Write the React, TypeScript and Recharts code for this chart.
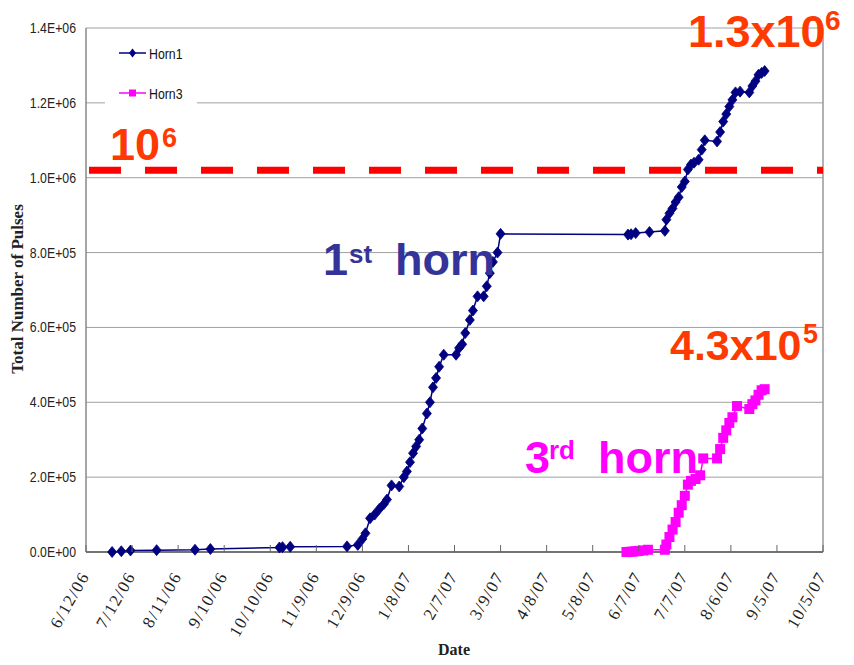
import React from 'react';
import { LineChart, Line, XAxis, YAxis, CartesianGrid, ReferenceLine, Legend } from 'recharts';

// ---- data (days since 6/12/06, total pulses) ----
const horn1Days = [17, 23, 29, 46, 71, 81, 126, 128, 133, 170, 177, 180, 182, 185, 188, 191, 194, 196, 199, 204, 207, 209, 211, 213, 215, 217, 219, 222, 224, 226, 228, 230, 233, 241, 243, 245, 247, 250, 252, 255, 259, 261, 263, 265, 268, 270, 353, 355, 358, 367, 377, 378, 380, 382, 384, 386, 388, 390, 392, 394, 396, 399, 401, 403, 411, 413, 415, 417, 419, 421, 423, 426, 432, 434, 436, 438, 440, 442];
const horn1Pulses = [0, 2000, 4000, 5000, 6000, 8000, 12000, 13000, 14000, 15000, 19000, 35000, 50000, 90000, 100000, 115000, 128000, 140000, 178000, 175000, 200000, 215000, 240000, 264000, 282000, 300000, 330000, 370000, 400000, 440000, 465000, 495000, 527000, 527000, 545000, 555000, 585000, 620000, 645000, 683000, 683000, 710000, 745000, 775000, 800000, 850000, 848000, 849000, 852000, 855000, 858000, 888000, 905000, 918000, 935000, 948000, 975000, 990000, 1022000, 1035000, 1040000, 1048000, 1075000, 1100000, 1097000, 1122000, 1150000, 1170000, 1190000, 1208000, 1228000, 1230000, 1228000, 1245000, 1258000, 1275000, 1280000, 1285000];

const horn3Days = [352, 354, 356, 358, 360, 363, 366, 377, 378, 380, 382, 384, 386, 388, 390, 392, 394, 397, 400, 402, 411, 413, 415, 417, 419, 421, 424, 432, 434, 436, 438, 440, 442];
const horn3Pulses = [0, 500, 1000, 2000, 3000, 4000, 6000, 6000, 20000, 40000, 60000, 80000, 105000, 125000, 150000, 180000, 190000, 195000, 205000, 250000, 250000, 275000, 305000, 325000, 345000, 360000, 390000, 382000, 395000, 405000, 420000, 432000, 435000];

const xTickDays = [0, 30, 60, 90, 120, 150, 180, 210, 240, 270, 300, 330, 360, 390, 420, 450, 480];
const xTickLabels = ['6/12/06', '7/12/06', '8/11/06', '9/10/06', '10/10/06', '11/9/06', '12/9/06', '1/8/07', '2/7/07', '3/9/07', '4/8/07', '5/8/07', '6/7/07', '7/7/07', '8/6/07', '9/5/07', '10/5/07'];
const yTicks = [0, 200000, 400000, 600000, 800000, 1000000, 1200000, 1400000];
const yTickLabels = ['0.0E+00', '2.0E+05', '4.0E+05', '6.0E+05', '8.0E+05', '1.0E+06', '1.2E+06', '1.4E+06'];
const seriesNames = ['Horn1', 'Horn3'];
const milestone = 1020000;

const horn1Data = horn1Days.map((d, i) => ({ d, v: horn1Pulses[i] }));
const horn3Data = horn3Days.map((d, i) => ({ d, v: horn3Pulses[i] }));

const NAVY = '#000080';
const MAGENTA = '#ff00ff';
const ORANGE = '#ff3a00';
const SANS = '"Liberation Sans", Arial, sans-serif';
const SERIF = '"Liberation Serif", "Times New Roman", serif';

const Diamond = (p: any) => {
  const { cx, cy, index } = p;
  if (cx == null || cy == null) return <g key={`h1-${index}`} />;
  return (
    <path
      key={`h1-${index}`}
      d={`M${cx},${cy - 5.5}L${cx + 4.5},${cy}L${cx},${cy + 5.5}L${cx - 4.5},${cy}Z`}
      fill={NAVY}
      stroke={NAVY}
      strokeWidth={0.8}
    />
  );
};

const Square = (p: any) => {
  const { cx, cy, index } = p;
  if (cx == null || cy == null) return <g key={`h3-${index}`} />;
  return <rect key={`h3-${index}`} x={cx - 5} y={cy - 5} width={10} height={10} fill={MAGENTA} />;
};

const XTick = (p: any) => {
  const { x, y, payload } = p;
  const idx = xTickDays.indexOf(payload.value);
  const label = idx >= 0 ? xTickLabels[idx] : '';
  return (
    <g>
      <line x1={x} x2={x} y1={y} y2={y - 7} stroke="#666" strokeWidth={1} />
      <text
        transform={`translate(${x + 4},${y + 24}) rotate(-60)`}
        textAnchor="end"
        fontFamily={SERIF}
        fontSize={17}
        letterSpacing={1.4}
        fill="#222"
      >
        {label}
      </text>
    </g>
  );
};

const YTick = (p: any) => {
  const { x, y, payload } = p;
  const idx = yTicks.indexOf(payload.value);
  const label = idx >= 0 ? yTickLabels[idx] : '';
  return (
    <g transform={`translate(${x},${y}) scale(0.82,1)`}>
      <text x={0} y={0} dy={5} textAnchor="end" fontFamily={SANS} fontSize={15} fill="#222">
        {label}
      </text>
    </g>
  );
};

const LegendContent = () => (
  <div style={{ background: '#fff', width: 92, height: 76, position: 'relative' }}>
    {seriesNames.map((name, i) => (
      <div key={name} style={{ position: 'absolute', left: 14, top: 9 + i * 40, height: 16, display: 'flex', alignItems: 'center' }}>
        <svg width={28} height={16}>
          <line x1={0} x2={27} y1={8} y2={8} stroke={i === 0 ? NAVY : MAGENTA} strokeWidth={1.5} />
          {i === 0 ? (
            <path d="M13.5,3.5L17,8L13.5,12.5L10,8Z" fill={NAVY} />
          ) : (
            <rect x={10} y={4.5} width={7} height={7} fill={MAGENTA} />
          )}
        </svg>
        <span
          style={{
            fontFamily: SANS,
            fontSize: 15,
            color: '#111',
            marginLeft: 2,
            display: 'inline-block',
            transform: 'scaleX(0.82)',
            transformOrigin: 'left center',
          }}
        >
          {name}
        </span>
      </div>
    ))}
  </div>
);

export default function App() {
  return (
    <div style={{ position: 'relative', width: 854, height: 665, margin: -8, background: '#fff', overflow: 'hidden' }}>
      <LineChart width={854} height={665} margin={{ top: 28, right: 31, left: 0, bottom: 0 }}>
        <CartesianGrid vertical={false} stroke="#a0a0a0" strokeWidth={1} />
        <XAxis
          type="number"
          dataKey="d"
          domain={[0, 480]}
          ticks={xTickDays}
          interval={0}
          height={113}
          tickSize={0}
          tickMargin={0}
          tick={<XTick />}
          axisLine={{ stroke: '#555', strokeWidth: 1.5 }}
          allowDuplicatedCategory={false}
        />
        <YAxis
          type="number"
          domain={[0, 1400000]}
          ticks={yTicks}
          interval={0}
          width={86}
          tickSize={0}
          tickMargin={10}
          tickLine={false}
          tick={<YTick />}
          axisLine={{ stroke: '#888', strokeWidth: 1.5 }}
        />
        <ReferenceLine x={480} stroke="#999" strokeWidth={1.5} />
        <ReferenceLine y={milestone} stroke="#ff0000" strokeWidth={7} strokeDasharray="32 24" strokeDashoffset={-3} />
        <Legend
          layout="horizontal"
          verticalAlign="middle"
          align="center"
          content={<LegendContent />}
          wrapperStyle={{ position: 'absolute', left: 105, top: 36, width: 92, height: 76 }}
        />
        <Line
          data={horn1Data}
          dataKey="v"
          name="Horn1"
          stroke={NAVY}
          strokeWidth={1.5}
          dot={Diamond}
          activeDot={false}
          isAnimationActive={false}
        />
        <Line
          data={horn3Data}
          dataKey="v"
          name="Horn3"
          stroke={MAGENTA}
          strokeWidth={1.5}
          dot={Square}
          activeDot={false}
          isAnimationActive={false}
        />
      </LineChart>
      <svg width={854} height={665} style={{ position: 'absolute', left: 0, top: 0, pointerEvents: 'none' }}>
        <text x={17} y={289} transform="rotate(-90 17 289)" textAnchor="middle" dominantBaseline="central" fontFamily={SERIF} fontWeight="bold" fontSize={17} fill="#222">
          Total Number of Pulses
        </text>
        <text x={454} y={655} textAnchor="middle" fontFamily={SERIF} fontWeight="bold" fontSize={16} fill="#222">
          Date
        </text>
        <g fontFamily={SANS} fontWeight="bold">
          <text x={110} y={160} fontSize={45} fill={ORANGE}>10</text>
          <text x={162} y={147} fontSize={27} fill={ORANGE}>6</text>
          <text x={688} y={47} fontSize={45} fill={ORANGE}>1.3x10</text>
          <text x={825} y={30} fontSize={28} fill={ORANGE}>6</text>
          <text x={670} y={360} fontSize={43} fill={ORANGE}>4.3x10</text>
          <text x={803} y={343} fontSize={27} fill={ORANGE}>5</text>
          <text x={323} y={275} fontSize={45} fill="#333399">1</text>
          <text x={349} y={263} fontSize={26} fill="#333399">st</text>
          <text x={395} y={275} fontSize={45} fill="#333399">horn</text>
          <text x={525} y={473} fontSize={45} fill={MAGENTA}>3</text>
          <text x={549} y={459} fontSize={26} fill={MAGENTA}>rd</text>
          <text x={598} y={473} fontSize={45} fill={MAGENTA}>horn</text>
        </g>
      </svg>
    </div>
  );
}
